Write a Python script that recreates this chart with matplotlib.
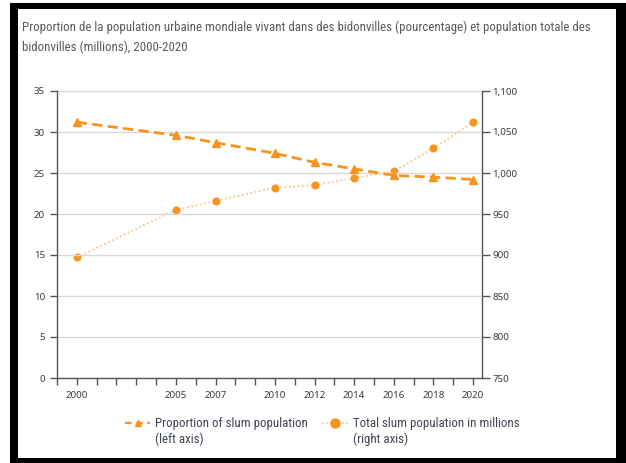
import matplotlib
matplotlib.use("Agg")
import matplotlib.pyplot as plt
from matplotlib import font_manager
from matplotlib.patches import Rectangle
from matplotlib.lines import Line2D

# ---------------- data ----------------
years = [2000, 2005, 2007, 2010, 2012, 2014, 2016, 2018, 2020]
proportion = [31.2, 29.6, 28.7, 27.4, 26.3, 25.5, 24.7, 24.5, 24.2]
total_millions = [897, 955, 966, 982, 985, 994, 1002, 1030, 1062]
x_tick_years = list(range(1999, 2021))
x_label_years = [2000, 2005, 2007, 2010, 2012, 2014, 2016, 2018, 2020]
left_ticks = [0, 5, 10, 15, 20, 25, 30, 35]
right_ticks = [750, 800, 850, 900, 950, 1000, 1050, 1100]
title_lines = ["Proportion de la population urbaine mondiale vivant dans des bidonvilles (pourcentage) et population totale des",
               "bidonvilles (millions), 2000-2020"]
label_prop = ["Proportion of slum population", "(left axis)"]
label_total = ["Total slum population in millions", "(right axis)"]

# ---------------- fonts ----------------
names = {f.name for f in font_manager.fontManager.ttflist}
cond = None
for cand in ["Roboto Condensed", "Liberation Sans Narrow", "Open Sans Condensed", "Noto Sans Condensed"]:
    if cand in names:
        cond = cand
        break
stretch = "normal"
if cond is None:
    cond = "Noto Sans"
    stretch = "condensed"
FAM = [cond, "DejaVu Sans"]
TICKFAM = ["Noto Sans", "DejaVu Sans"]
plt.rcParams['font.family'] = FAM

W, H = 626, 463
fig = plt.figure(figsize=(W / 100, H / 100), dpi=100)
fig.patch.set_facecolor("white")

def fx(px):
    return px / W

def fy(py):
    return 1 - py / H

# frame
fig.patches.append(Rectangle((fx(10), 0), fx(616), 1 - 3 / H, transform=fig.transFigure,
                             facecolor="black", edgecolor="none", zorder=-10))
fig.patches.append(Rectangle((fx(18), fy(458)), fx(616 - 18), (458 - 9) / H, transform=fig.transFigure,
                             facecolor="white", edgecolor="none", zorder=-9))

title_color = "#5a5a5a"
fig.text(fx(22), fy(27), title_lines[0], fontsize=9.3, color=title_color, va="center", ha="left",
         fontstretch=stretch)
fig.text(fx(22), fy(47), title_lines[1], fontsize=9.3, color=title_color, va="center", ha="left",
         fontstretch=stretch)

ax = fig.add_axes([fx(57), fy(378), fx(482 - 57), (378 - 91) / H])
ax.patch.set_alpha(0)
ax2 = ax.twinx()

orange = "#F7941D"
light = "#FCC58C"
axis_col = "#555555"
tick_col = "#3a3a3a"

ax.set_xlim(1999, 2020.45)
ax.set_ylim(0, 35)
ax2.set_ylim(750, 1100)

ax.set_yticks(left_ticks)
ax.set_yticklabels([str(v) for v in left_ticks])
ax2.set_yticks(right_ticks)
ax2.set_yticklabels([f"{v:,}" for v in right_ticks])
ax.set_xticks(x_tick_years)
ax.set_xticklabels([str(y) if y in x_label_years else "" for y in x_tick_years])

ax.yaxis.grid(True, color="#d9d9d9", lw=1.0)
ax.set_axisbelow(True)

for a in (ax, ax2):
    a.spines["top"].set_visible(False)
ax.spines["right"].set_visible(False)
ax2.spines["left"].set_visible(False)
ax2.spines["bottom"].set_visible(False)
for s in (ax.spines["left"], ax.spines["bottom"], ax2.spines["right"]):
    s.set_color(axis_col)
    s.set_linewidth(1.0)

ax.tick_params(axis="y", direction="out", length=5, width=1, color=axis_col,
               labelsize=7.0, labelcolor=tick_col, pad=3.6, labelfontfamily=TICKFAM)
ax.tick_params(axis="x", direction="out", length=5, width=1, color=axis_col,
               labelsize=7.0, labelcolor=tick_col, pad=4, labelfontfamily=TICKFAM)
ax2.tick_params(axis="y", direction="out", length=6, width=1, color=axis_col,
                labelsize=7.0, labelcolor=tick_col, pad=1.5, labelfontfamily=TICKFAM)

ax2.plot(years, total_millions, color=light, lw=1.3, ls=(0, (1, 1.4)), marker="o", ms=4.8,
         markerfacecolor=orange, markeredgecolor=orange, zorder=3)
ax.plot(years, proportion, color=orange, lw=2.0, ls=(0, (3.7, 1.9)), marker="^", ms=6,
        markerfacecolor=orange, markeredgecolor=orange, zorder=4)
ax.set_zorder(ax2.get_zorder() + 1)

h1 = Line2D([], [], color=orange, lw=1.6, ls=(0, (3, 2)), marker="^", ms=4.5)
h2 = Line2D([], [], color=light, lw=1.2, ls=(0, (1, 1.4)), marker="o", ms=6.5,
            markerfacecolor=orange, markeredgecolor=orange)
leg_col = "#3f4452"
LFS = 9.3
leg = fig.legend([h1, h2], [label_prop[0], label_total[0]], ncol=2, loc="center left",
                 bbox_to_anchor=(fx(125), fy(424)), frameon=False,
                 handlelength=1.95, handletextpad=0.4, columnspacing=1.1, labelcolor=leg_col,
                 borderpad=0, borderaxespad=0, prop={"family": FAM, "size": LFS})

fig.canvas.draw()
r = fig.canvas.get_renderer()
for t, second in zip(leg.get_texts(), [label_prop[1], label_total[1]]):
    bb = t.get_window_extent(renderer=r)
    fig.text(bb.x0 / W, (bb.y0 + bb.y1) / 2 / H - 15 / H, second, fontsize=LFS, color=leg_col,
             va="center", ha="left", family=FAM)

fig.savefig("out.png", dpi=100)
